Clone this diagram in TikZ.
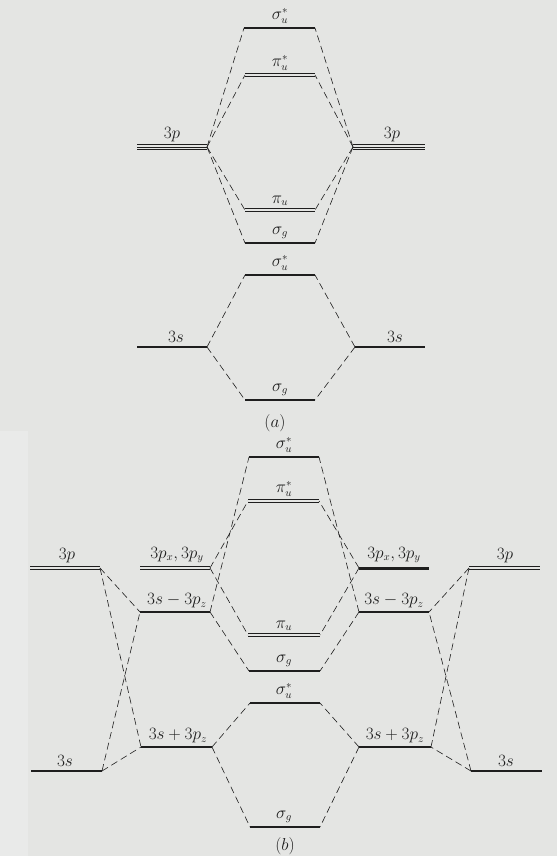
\documentclass[tikz,border=0pt]{standalone}
\usepackage{amsmath}
\definecolor{bg}{RGB}{228,229,227}
\definecolor{bgl}{RGB}{233,234,233}
\definecolor{ink}{RGB}{30,30,30}
\begin{document}
\begin{tikzpicture}[x=1pt,y=-1pt,
  lvl/.style={draw=ink, line width=1.1pt},
  thin/.style={draw=ink, line width=0.85pt},
  heavy/.style={draw=ink, line width=3pt},
  conn/.style={draw=ink, line width=0.6pt, dash pattern=on 7pt off 4pt},
  lab/.style={font=\fontsize{16}{18}\selectfont, text=ink, inner sep=0pt, anchor=south}
]
\fill[bg] (0,0) rectangle (557,856);
\fill[bgl] (0,431) rectangle (28,856);
\useasboundingbox (0,0) rectangle (557,856);

% ---------- part (a) ----------
\coordinate (asuL) at (244,28);  \coordinate (asuR) at (315,28);
\coordinate (apusL) at (245,75); \coordinate (apusR) at (315,75);
\coordinate (apLl) at (137,147); \coordinate (apLr) at (207,147);
\coordinate (apRl) at (353,147); \coordinate (apRr) at (425,147);
\coordinate (apuL) at (245,210); \coordinate (apuR) at (315,210);
\coordinate (asgL) at (245,243); \coordinate (asgR) at (315,243);
\coordinate (asubL) at (245,275); \coordinate (asubR) at (315,275);
\coordinate (asLl) at (137,347); \coordinate (asLr) at (207,347);
\coordinate (asRl) at (355,347); \coordinate (asRr) at (425,347);
\coordinate (asgbL) at (245,400); \coordinate (asgbR) at (315,400);

\draw[lvl] (asuL) -- (asuR);
\foreach \o in {-1.2,1.2}{
  \draw[thin] ([yshift=\o pt]apusL) -- ([yshift=\o pt]apusR);
  \draw[thin] ([yshift=\o pt]apuL) -- ([yshift=\o pt]apuR);
}
\foreach \o in {-2.4,0,2.4}{
  \draw[thin] ([yshift=\o pt]apLl) -- ([yshift=\o pt]apLr);
  \draw[thin] ([yshift=\o pt]apRl) -- ([yshift=\o pt]apRr);
}
\draw[lvl] (asgL) -- (asgR);
\draw[lvl] (asubL) -- (asubR);
\draw[lvl] (asLl) -- (asLr);
\draw[lvl] (asRl) -- (asRr);
\draw[lvl] (asgbL) -- (asgbR);

\draw[conn] (apLr) -- (asuL);
\draw[conn] (apLr) -- (apusL);
\draw[conn] (apLr) -- (apuL);
\draw[conn] (apLr) -- (asgL);
\draw[conn] (apRl) -- (asuR);
\draw[conn] (apRl) -- (apusR);
\draw[conn] (apRl) -- (apuR);
\draw[conn] (apRl) -- (asgR);
\draw[conn] (asLr) -- (asubL);
\draw[conn] (asLr) -- (asgbL);
\draw[conn] (asRl) -- (asubR);
\draw[conn] (asRl) -- (asgbR);

\node[lab] (tasu) at (280,24) {$\sigma_u^*$};
\node[lab] (tapus) at (280,71) {$\pi_u^*$};
\node[lab] (tapL) at (172,142) {$3p$};
\node[lab] (tapR) at (392,142) {$3p$};
\node[lab] (tapu) at (280,206) {$\pi_u$};
\node[lab] (tasg) at (280,239) {$\sigma_g$};
\node[lab] (tasub) at (280,271) {$\sigma_u^*$};
\node[lab] (tasL) at (176,343) {$3s$};
\node[lab] (tasR) at (395,343) {$3s$};
\node[lab] (tasgb) at (280,396) {$\sigma_g$};
\node[font=\fontsize{16}{18}\selectfont, text=ink] (capa) at (275,423) {$(a)$};

% ---------- part (b) ----------
\coordinate (bpLl) at (30,568);  \coordinate (bpLr) at (100,568);
\coordinate (bxLl) at (140,568); \coordinate (bxLr) at (210,568);
\coordinate (bmLl) at (140,612); \coordinate (bmLr) at (210,612);
\coordinate (bsuL) at (249,457); \coordinate (bsuR) at (319,457);
\coordinate (bpusL) at (248,501); \coordinate (bpusR) at (319,501);
\coordinate (bpuL) at (248,635); \coordinate (bpuR) at (320,635);
\coordinate (bsgL) at (249,671); \coordinate (bsgR) at (320,671);
\coordinate (bsubL) at (250,703); \coordinate (bsubR) at (320,703);
\coordinate (bqLl) at (141,747); \coordinate (bqLr) at (212,747);
\coordinate (bqRl) at (359,747); \coordinate (bqRr) at (431,747);
\coordinate (bsLl) at (31,771);  \coordinate (bsLr) at (102,771);
\coordinate (bsRl) at (471,771); \coordinate (bsRr) at (542,771);
\coordinate (bsgbL) at (250,827); \coordinate (bsgbR) at (320,827);
\coordinate (bxRl) at (359,568); \coordinate (bxRr) at (429,568);
\coordinate (bmRl) at (359,612); \coordinate (bmRr) at (429,612);
\coordinate (bpRl) at (469,568); \coordinate (bpRr) at (540,568);

\foreach \o in {-1.2,1.2}{
  \draw[thin] ([yshift=\o pt]bpLl) -- ([yshift=\o pt]bpLr);
  \draw[thin] ([yshift=\o pt]bxLl) -- ([yshift=\o pt]bxLr);
  \draw[thin] ([yshift=\o pt]bpusL) -- ([yshift=\o pt]bpusR);
  \draw[thin] ([yshift=\o pt]bpuL) -- ([yshift=\o pt]bpuR);
  \draw[thin] ([yshift=\o pt]bpRl) -- ([yshift=\o pt]bpRr);
}
\draw[lvl] (bmLl) -- (bmLr);
\draw[lvl] (bsuL) -- (bsuR);
\draw[lvl] (bsgL) -- (bsgR);
\draw[lvl] (bsubL) -- (bsubR);
\draw[lvl] (bqLl) -- (bqLr);
\draw[lvl] (bqRl) -- (bqRr);
\draw[lvl] (bsLl) -- (bsLr);
\draw[lvl] (bsRl) -- (bsRr);
\draw[lvl] (bsgbL) -- (bsgbR);
\draw[heavy] (bxRl) -- (bxRr);
\draw[lvl] (bmRl) -- (bmRr);

% outer left
\draw[conn] (bpLr) -- (bmLl);
\draw[conn] (bpLr) -- (bqLl);
\draw[conn] (bsLr) -- (bmLl);
\draw[conn] (bsLr) -- (bqLl);
% outer right
\draw[conn] (bpRl) -- (bmRr);
\draw[conn] (bpRl) -- (bqRr);
\draw[conn] (bsRl) -- (bmRr);
\draw[conn] (bsRl) -- (bqRr);
% inner left
\draw[conn] (bxLr) -- (bpusL);
\draw[conn] (bxLr) -- (bpuL);
\draw[conn] (bmLr) -- (bsuL);
\draw[conn] (bmLr) -- (bsgL);
\draw[conn] (bqLr) -- (bsubL);
\draw[conn] (bqLr) -- (bsgbL);
% inner right
\draw[conn] (bxRl) -- (bpusR);
\draw[conn] (bxRl) -- (bpuR);
\draw[conn] (bmRl) -- (bsuR);
\draw[conn] (bmRl) -- (bsgR);
\draw[conn] (bqRl) -- (bsubR);
\draw[conn] (bqRl) -- (bsgbR);

\node[lab] (tbsu) at (284,453) {$\sigma_u^*$};
\node[lab] (tbpus) at (284,497) {$\pi_u^*$};
\node[lab] (tbpu) at (284,631) {$\pi_u$};
\node[lab] (tbsg) at (284,667) {$\sigma_g$};
\node[lab] (tbsub) at (284,699) {$\sigma_u^*$};
\node[lab] (tbsgb) at (284,823) {$\sigma_g$};
\node[lab] (tbpL) at (67,563) {$3p$};
\node[lab] (tbxL) at (177,563) {$3p_x, 3p_y$};
\node[lab] (tbmL) at (177,608) {$3s - 3p_z$};
\node[lab] (tbqL) at (178,743) {$3s + 3p_z$};
\node[lab] (tbsL) at (65,767) {$3s$};
\node[lab] (tbxR) at (394,563) {$3p_x, 3p_y$};
\node[lab] (tbmR) at (394,608) {$3s - 3p_z$};
\node[lab] (tbqR) at (395,743) {$3s + 3p_z$};
\node[lab] (tbpR) at (505,563) {$3p$};
\node[lab] (tbsR) at (506,767) {$3s$};
\node[font=\fontsize{16}{18}\selectfont, text=ink] (capb) at (285,846) {$(b)$};
\end{tikzpicture}
\end{document}
